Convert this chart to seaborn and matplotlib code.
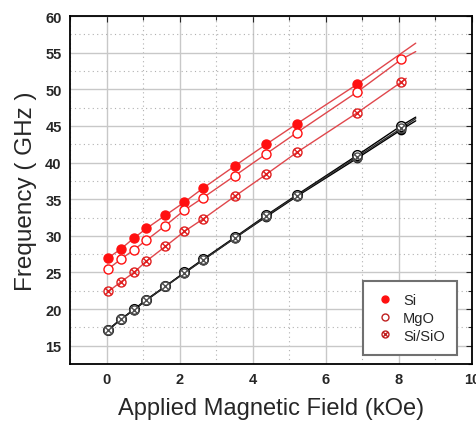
import numpy as np
import matplotlib
matplotlib.use('Agg')
import matplotlib.pyplot as plt
from matplotlib.path import Path
from matplotlib.lines import Line2D
from matplotlib.ticker import MultipleLocator
import seaborn as sns

# Field values (kOe) where the points sit
field = [0.05, 0.39, 0.75, 1.09, 1.61, 2.13, 2.64, 3.51, 4.37, 5.21, 6.86, 8.07]

# Red series (frequency in GHz)
si = [27.0, 28.2, 29.7, 31.0, 32.8, 34.6, 36.5, 39.55, 42.5, 45.3, 50.7]
mgo = [25.5, 26.8, 28.1, 29.4, 31.4, 33.5, 35.2, 38.2, 41.2, 44.1, 49.65, 54.1]
sisio = [22.4, 23.7, 25.0, 26.55, 28.55, 30.6, 32.3, 35.4, 38.4, 41.4, 46.8, 51.0]

# Black series (three overlapping samples)
blk_filled = [17.2, 18.6, 19.9, 21.2, 23.1, 24.95, 26.7, 29.7, 32.6, 35.4, 40.6, 44.5]
blk_open = [17.2, 18.6, 19.95, 21.3, 23.1, 25.0, 26.8, 29.8, 32.8, 35.6, 41.0, 45.05]
blk_cross = [17.1, 18.6, 19.9, 21.2, 23.1, 24.9, 26.7, 29.7, 32.7, 35.5, 40.8, 44.7]

# where the fitted lines stop (x, y)
si_end = (8.46, 56.3)
mgo_end = (8.46, 55.15)
sisio_end = (8.2, 51.5)
blk_filled_end = (8.46, 45.7)
blk_open_end = (8.46, 46.2)
blk_cross_end = (8.46, 46.0)

labels = ['Si', 'MgO', 'Si/SiO']

sns.set_style('white')
plt.rcParams['font.family'] = ['Liberation Sans', 'DejaVu Sans']

# circle with an X inside
circ = Path.unit_circle()
d = 0.7071
xpath = Path([(-d, -d), (d, d), (-d, d), (d, -d)],
             [Path.MOVETO, Path.LINETO, Path.MOVETO, Path.LINETO])
crossed = Path.make_compound_path(circ, xpath)

fig = plt.figure(figsize=(4.77, 4.27), dpi=100)
ax = fig.add_axes([0.1468, 0.1452, 0.8427, 0.8148])

red_line = '#e0474c'
red = '#ff1010'


def draw(xs, ys, end, color, lcolor, marker, mfc, ms, lw=1.0):
    lx = list(xs) + [end[0]]
    ly = list(ys) + [end[1]]
    sns.lineplot(x=lx, y=ly, ax=ax, color=lcolor, lw=lw, sort=False,
                 estimator=None, zorder=2)
    ax.plot(xs, ys, ls='none', marker=marker, ms=ms, mfc=mfc,
            mec=color, mew=1.0, zorder=3)


draw(field, blk_filled, blk_filled_end, 'black', 'black', 'o', 'black', 6)
draw(field, blk_open, blk_open_end, 'black', 'black', 'o', 'white', 7)
draw(field, blk_cross, blk_cross_end, '#505050', '#303030', crossed, 'none', 6.5)

draw(field[:len(si)], si, si_end, red, red_line, 'o', red, 6.5)
draw(field, mgo, mgo_end, red, red_line, 'o', 'white', 6.5)
draw(field, sisio, sisio_end, '#e02020', red_line, crossed, 'none', 6.5)

ax.set_xlim(-1, 10)
ax.set_ylim(12.5, 60)
ax.xaxis.set_major_locator(MultipleLocator(2))
ax.xaxis.set_minor_locator(MultipleLocator(1))
ax.yaxis.set_major_locator(MultipleLocator(5))
ax.yaxis.set_minor_locator(MultipleLocator(2.5))
ax.set_yticks([15, 20, 25, 30, 35, 40, 45, 50, 55, 60])

ax.grid(which='major', color='#c8c8c8', lw=1.0, ls='-', zorder=0)
ax.grid(which='minor', color='#b0b0b0', lw=0.8, ls=(0, (1, 3)), zorder=0)
ax.set_axisbelow(True)

ax.tick_params(which='both', direction='in', top=True, right=True,
               length=4, width=0.8, labelsize=10.5, pad=6)
ax.tick_params(which='minor', length=3)
for lab in ax.get_xticklabels() + ax.get_yticklabels():
    lab.set_fontweight('bold')
for s in ax.spines.values():
    s.set_color('black')
    s.set_linewidth(1.3)

ax.set_xlabel('Applied Magnetic Field (kOe)', fontsize=17, labelpad=8)
ax.set_ylabel('Frequency ( GHz )', fontsize=17.5, labelpad=6)

handles = [
    Line2D([], [], ls='none', marker='o', ms=5, mfc=red, mec=red),
    Line2D([], [], ls='none', marker='o', ms=5, mfc='white', mec='#c02020'),
    Line2D([], [], ls='none', marker=crossed, ms=5, mfc='none', mec='#c02020'),
]
leg = ax.legend(handles, labels, loc='lower right', bbox_to_anchor=(0.963, 0.026),
                borderaxespad=0, fancybox=False, framealpha=1, fontsize=10.5,
                edgecolor='#707070', handletextpad=0.5, borderpad=0.85,
                labelspacing=0.25, handlelength=1.4)
leg.get_frame().set_linewidth(1.5)
leg.set_zorder(5)

fig.savefig('out.png', dpi=100)
